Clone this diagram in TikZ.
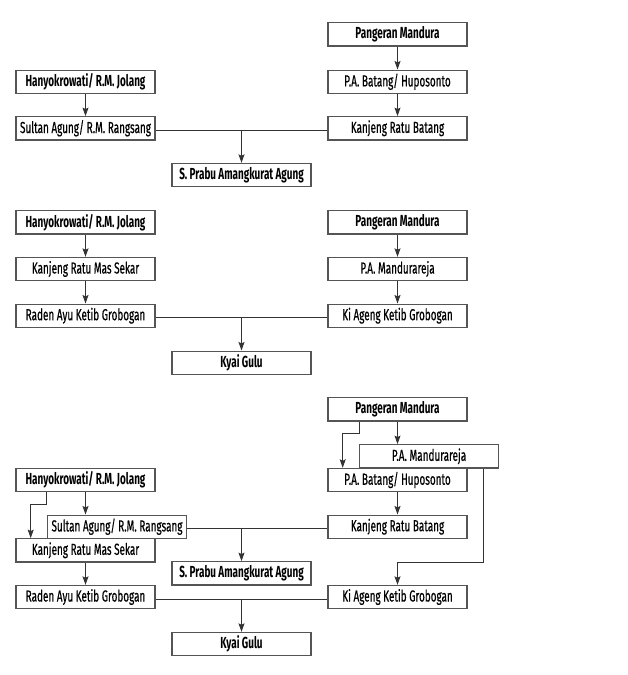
\documentclass[tikz,border=0pt]{standalone}
\usepackage{fontspec}
\setmainfont{Fira Sans}[FakeStretch=0.62, UprightFeatures={FakeBold=0.5}]
\usepackage{tikz}
\usetikzlibrary{positioning, calc, arrows.meta}
\definecolor{boxgray}{HTML}{555555}
\definecolor{linegray}{HTML}{333333}
\tikzset{
  person/.style={draw=boxgray, line width=1.1pt, fill=white, minimum width=139pt, minimum height=23.3pt, inner sep=0pt, font=\fontsize{16}{17}\selectfont},
  root/.style={person, font=\fontsize{16}{17}\selectfont\bfseries},
  link/.style={draw=linegray, line width=0.9pt}
}
\begin{document}
\begin{tikzpicture}[x=1pt, y=-1pt, >={Stealth[length=8.5pt,width=6pt,inset=1.5pt]}]
      \useasboundingbox (0,0) rectangle (628,675);

      \node[root] (PM1) at (397.5,34.3) {Pangeran Mandura};
      \node[root] (HJ1) at (85.5,81.7) {Hanyokrowati/ R.M. Jolang};
      \node[person] (PAB1) at (397.5,81.7) {P.A. Batang/ Huposonto};
      \node[person] (SA1) at (85.5,128.3) {Sultan Agung/ R.M. Rangsang};
      \node[person] (KRB1) at (397.5,128.3) {Kanjeng Ratu Batang};
      \node[root] (SPA1) at (241.5,175) {S. Prabu Amangkurat Agung};

      \node[root] (HJ2) at (85.5,222.3) {Hanyokrowati/ R.M. Jolang};
      \node[root] (PM2) at (397.5,222.3) {Pangeran Mandura};
      \node[person] (KRMS2) at (85.5,269) {Kanjeng Ratu Mas Sekar};
      \node[person] (PAM2) at (397.5,269) {P.A. Mandurareja};
      \node[person] (RA2) at (85.5,315.7) {Raden Ayu Ketib Grobogan};
      \node[person] (KA2) at (397.5,315.7) {Ki Ageng Ketib Grobogan};
      \node[root] (KG2) at (241.5,362.7) {Kyai Gulu};

      \node[root] (PM3) at (397.5,409.3) {Pangeran Mandura};
      \node[person] (PAM3) at (429,456.3) {P.A. Mandurareja};
      \node[root] (HJ3) at (85.5,480) {Hanyokrowati/ R.M. Jolang};
      \node[person] (PAB3) at (397.5,480) {P.A. Batang/ Huposonto};
      \node[person] (SA3) at (117,526.7) {Sultan Agung/ R.M. Rangsang};
      \node[person] (KRB3) at (397.5,526.7) {Kanjeng Ratu Batang};
      \node[person] (KRMS3) at (85.5,550.3) {Kanjeng Ratu Mas Sekar};
      \node[root] (SPA3) at (241.5,573.3) {S. Prabu Amangkurat Agung};
      \node[person] (RA3) at (85.5,597) {Raden Ayu Ketib Grobogan};
      \node[person] (KA3) at (397.5,597) {Ki Ageng Ketib Grobogan};
      \node[root] (KG3) at (241.5,644) {Kyai Gulu};

      \draw[link,->] (node cs:name=PM1) -- (node cs:name=PAB1);
      \draw[link,->] (node cs:name=PAB1) -- (node cs:name=KRB1);
      \draw[link,->] (node cs:name=HJ1) -- (node cs:name=SA1);
      \draw[link] ([yshift=-2pt]SA1.east) -- ([yshift=-2pt]KRB1.west);
      \draw[link,->] (SPA1 |- SA1) ++(0,2) -- (node cs:name=SPA1);

      \draw[link,->] (node cs:name=HJ2) -- (node cs:name=KRMS2);
      \draw[link,->] (node cs:name=KRMS2) -- (node cs:name=RA2);
      \draw[link,->] (node cs:name=PM2) -- (node cs:name=PAM2);
      \draw[link,->] (node cs:name=PAM2) -- (node cs:name=KA2);
      \draw[link] ([yshift=-2pt]RA2.east) -- ([yshift=-2pt]KA2.west);
      \draw[link,->] (KG2 |- RA2) ++(0,2) -- (node cs:name=KG2);

      \draw[link,->] (PM3.south) -- (PM3.south |- PAM3.north);
      \draw[link,->] ([xshift=-38.5pt]PM3.south) -- ++(0,12.3) -| ([xshift=-54.8pt]PAB3.north);
      \draw[link,->] (node cs:name=PAB3) -- (node cs:name=KRB3);
      \draw[link,->] ([xshift=54.3pt]PAM3.south) -- ++(0,94.3) -| (KA3.north);
      \draw[link,->] (HJ3.south) -- (HJ3.south |- SA3.north);
      \draw[link,->] ([xshift=-38.8pt]HJ3.south) -- ++(0,12.3) -| ([xshift=-54.8pt]KRMS3.north);
      \draw[link,->] (node cs:name=KRMS3) -- (node cs:name=RA3);
      \draw[link] ([yshift=-2pt]SA3.east) -- ([yshift=-2pt]KRB3.west);
      \draw[link,->] (SPA3 |- SA3) ++(0,2) -- (node cs:name=SPA3);
      \draw[link] ([yshift=-2pt]RA3.east) -- ([yshift=-2pt]KA3.west);
      \draw[link,->] (KG3 |- RA3) ++(0,2) -- (node cs:name=KG3);
\end{tikzpicture}
\end{document}
